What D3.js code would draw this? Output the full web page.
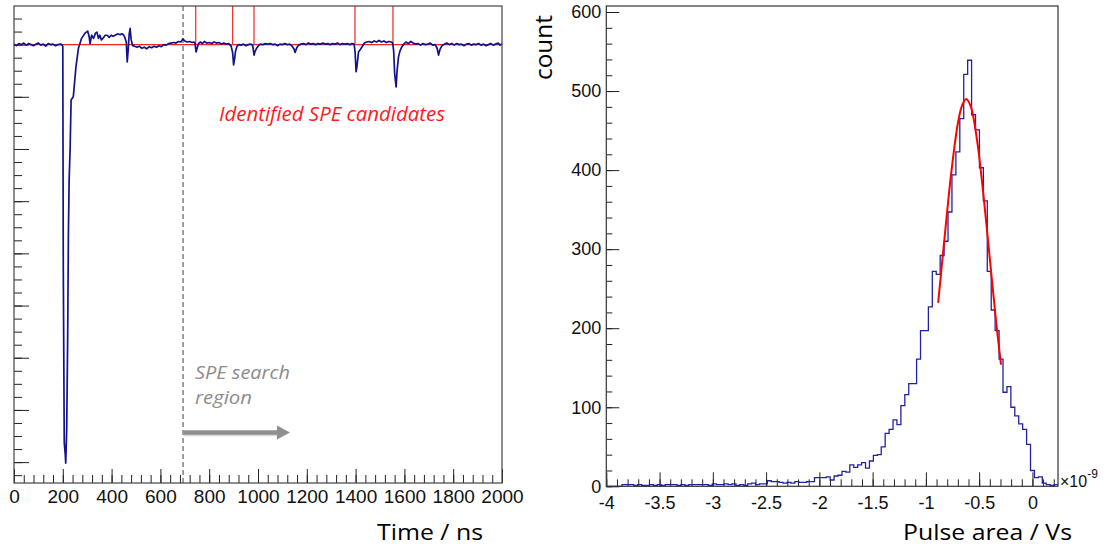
<!DOCTYPE html>
<html><head><meta charset="utf-8">
<script src="https://cdn.jsdelivr.net/npm/d3@7"></script>
<style>
body{margin:0;background:#fff;}
svg{display:block;}
</style></head><body>
<svg id="c" width="1107" height="549"></svg>
<script>
// ---------- Left panel: waveform ----------
const traceTime = [0,10,20,30,40,50,60,70,80,90,100,110,120,130,140,150,160,170,180,190,
196,200,202,206,210,212,216,220,223,226,230,234,243,254,264,277,291,302,308,312,318,326,334,340,346,352,358,366,374,382,390,398,406,414,422,430,436,442,448,454,460,464,468,472,476,480,486,494,
504,514,524,534,544,554,564,574,584,594,604,614,624,634,644,654,664,674,684,692,700,710,720,730,738,742,746,750,756,764,772,780,790,
800,810,820,830,840,850,860,870,880,890,896,900,904,908,914,922,930,940,950,960,970,978,984,988,994,
1002,1010,1020,1030,1040,1050,1060,1070,1080,1090,1100,1110,1120,1130,1140,1148,1152,1158,1166,1176,1186,1196,
1206,1216,1226,1236,1246,1256,1266,1276,1286,1296,1306,1316,1326,1336,1346,1356,1366,1376,1386,1394,1398,
1402,1406,1412,1420,1428,1436,1446,1456,1466,1476,1486,1496,1506,1516,1526,1536,1546,1552,1556,1560,1566,1570,1576,1582,1590,1598,
1606,1616,1626,1636,1646,1656,1666,1676,1686,1696,1706,1716,1726,1734,1740,1746,1754,1764,1774,1784,1794,
1804,1814,1824,1834,1844,1854,1864,1874,1884,1894,1904,1914,1924,1934,1944,1954,1964,1974,1984,1992,2000];
const traceValue = [0.1,-0.2,0.2,0.0,0.3,-0.1,0.2,0.0,-0.2,0.1,0.3,-0.1,0.1,-0.3,0.2,0.0,0.1,-0.2,0.0,0.1,
0.0,-0.3,-42.6,-76.3,-78.5,-80.2,-73.8,-56.0,-36.1,-25.9,-20.0,-10.6,-10.0,-4.2,-0.7,1.2,2.2,2.6,1.5,0.2,1.8,1.2,2.2,2.4,1.2,1.8,0.9,1.3,1.8,1.8,1.4,1.8,1.6,1.8,2.0,2.0,1.9,2.1,1.9,1.4,0.5,-3.3,-1.0,2.0,3.1,1.0,-0.2,-0.3,
-0.5,-0.3,-0.7,-0.5,-0.8,-0.4,-0.6,-0.3,-0.5,-0.2,-0.4,0.0,-0.1,0.2,0.3,0.4,0.3,0.6,0.5,1.1,0.7,0.5,0.6,0.4,0.5,0.2,-1.4,-0.8,0.2,0.5,0.2,0.6,0.3,
0.4,0.2,0.5,0.3,0.4,0.1,0.3,0.1,0.2,-0.3,-1.5,-3.9,-2.8,-1.2,-0.3,0.0,-0.1,0.1,-0.2,0.0,0.1,-0.1,-2.0,-1.3,-0.7,
-0.2,0.1,0.0,0.2,0.1,0.2,0.0,0.1,-0.2,0.1,0.0,0.2,0.0,0.1,-0.3,-0.9,-1.5,-0.7,-0.1,0.1,0.2,0.0,
0.3,0.1,0.2,0.0,0.2,0.1,0.3,0.1,0.2,0.0,0.2,0.1,0.3,0.0,0.2,0.1,0.2,0.0,0.2,0.1,-1.5,
-5.2,-4.0,-1.4,-0.9,-0.3,0.3,0.5,0.6,0.4,0.7,0.5,0.8,0.5,0.7,0.4,0.6,0.5,0.3,-1.2,-5.5,-8.1,-5.0,-2.3,-1.2,-0.4,0.1,
0.5,0.2,0.6,0.3,0.1,0.2,-0.1,0.2,0.0,0.1,0.3,-0.1,0.0,-0.7,-2.0,-0.9,-0.2,0.1,0.3,0.0,0.2,
-0.1,0.2,0.0,0.1,-0.2,0.1,0.2,-0.1,0.1,0.0,0.2,-0.1,0.1,-0.2,0.0,0.2,-0.1,0.1,0.3,-0.1,0.2];
const speTimes = [744.7, 896, 983.6, 1397.5, 1553];
const searchStart = 693;
const searchArrowEnd = 1131;
const xTicksLeft = [0,200,400,600,800,1000,1200,1400,1600,1800,2000];

// ---------- Right panel: pulse area histogram ----------
const histStart = -4, histEnd = 0.24;
const histCounts = [0,0,0,0,2,2,2,1,2,1,
 1,2,1,2,1,2,2,2,1,2,
 1,2,2,2,2,2,1,3,2,2,
 3,2,3,1,2,1,3,4,2,3,
 3,7,6,6,5,4,5,4,6,5,
 5,6,6,11,11,11,12,8,13,14,
 19,18,27,24,27,30,23,32,39,40,
 50,67,72,84,78,102,116,130,130,161,
 197,197,227,272,268,292,310,347,394,423,
 465,521,539,470,451,403,361,272,223,197,
 161,119,126,100,89,79,72,53,20,11,
 12,4,2,1,2];
const fitX = [-0.885,-0.82,-0.76,-0.70,-0.66,-0.622,-0.58,-0.52,-0.46,-0.40,-0.34,-0.295];
const fitY = [232,321,399,459,482,490,481,438,369,288,207,154];
const xTicksRight = [-4,-3.5,-3,-2.5,-2,-1.5,-1,-0.5,0];
const yTicksRight = [0,100,200,300,400,500,600];

const svg = d3.select("#c");
const tickFont = "Liberation Sans, Arial, sans-serif";
const titleFont = "Open Sans, Lato, sans-serif";

function styleAxis(g, size){
  g.attr("font-family", tickFont).attr("font-size", size);
  g.select(".domain").remove();
  g.selectAll("line").attr("stroke", "#222");
  g.selectAll("text").attr("fill", "#111");
}

// ===== Left panel =====
const xL = d3.scaleLinear().domain([0, 2000]).range([14, 502]);
const yL = d3.scaleLinear().domain([-84, 7.4]).range([483, 6]);
const gL = svg.append("g");

gL.append("g").attr("transform", `translate(0,${yL.range()[0]})`)
  .call(d3.axisBottom(xL).tickValues(d3.range(0, 2001, 40)).tickSize(-8).tickFormat(""))
  .call(g => styleAxis(g, 19));
gL.append("g").attr("transform", `translate(0,${yL.range()[0]})`)
  .call(d3.axisBottom(xL).tickValues(xTicksLeft).tickSize(-14).tickPadding(7).tickFormat(d3.format("d")))
  .call(g => styleAxis(g, 19));
gL.append("g").attr("transform", `translate(${xL.range()[0]},0)`)
  .call(d3.axisLeft(yL).tickValues(d3.range(-82.5, 7.4, 2.5)).tickSize(-8).tickFormat(""))
  .call(g => styleAxis(g, 19));
gL.append("g").attr("transform", `translate(${xL.range()[0]},0)`)
  .call(d3.axisLeft(yL).tickValues(d3.range(-80, 7.4, 10)).tickSize(-15).tickFormat(""))
  .call(g => styleAxis(g, 19));

// dashed search start line
gL.append("line")
  .attr("x1", xL(searchStart)).attr("x2", xL(searchStart))
  .attr("y1", yL.range()[1]).attr("y2", yL.range()[0])
  .attr("stroke", "#8a8a8a").attr("stroke-width", 1.6).attr("stroke-dasharray", "5,3");

// red baseline & SPE markers
gL.append("line")
  .attr("x1", xL(0)).attr("x2", xL(2000)).attr("y1", yL(0)).attr("y2", yL(0))
  .attr("stroke", "#ff2020").attr("stroke-width", 1.3);
gL.selectAll("line.spe").data(speTimes).enter().append("line").attr("class", "spe")
  .attr("x1", d => xL(d)).attr("x2", d => xL(d))
  .attr("y1", yL.range()[1]).attr("y2", yL(0))
  .attr("stroke", "#f03838").attr("stroke-width", 1.3);

// trace
const traceData = traceTime.map((t, i) => [t, traceValue[i]]);
gL.append("path").datum(traceData)
  .attr("d", d3.line().x(d => xL(d[0])).y(d => yL(d[1])))
  .attr("fill", "none").attr("stroke", "#12128e").attr("stroke-width", 1.7)
  .attr("stroke-linejoin", "round");

// frame
gL.append("rect").attr("x", 14).attr("y", 6).attr("width", 488).attr("height", 477)
  .attr("fill", "none").attr("stroke", "#444").attr("stroke-width", 1.2);

// annotations
gL.append("text").attr("x", 219).attr("y", 121)
  .attr("font-family", titleFont).attr("font-style", "italic").attr("font-size", 20)
  .attr("fill", "#ff1a1a").attr("textLength", 226).attr("lengthAdjust", "spacingAndGlyphs")
  .text("Identified SPE candidates");
gL.append("text").attr("x", 195).attr("y", 379)
  .attr("font-family", titleFont).attr("font-style", "italic").attr("font-size", 18)
  .attr("fill", "#8c8c8c").attr("textLength", 95).attr("lengthAdjust", "spacingAndGlyphs")
  .text("SPE search");
gL.append("text").attr("x", 195).attr("y", 404)
  .attr("font-family", titleFont).attr("font-style", "italic").attr("font-size", 18)
  .attr("fill", "#8c8c8c").attr("textLength", 57).attr("lengthAdjust", "spacingAndGlyphs")
  .text("region");
// arrow
const ay = 432.5, ax0 = xL(searchStart), ax1 = xL(searchArrowEnd);
gL.append("line").attr("x1", ax0).attr("x2", ax1 - 10).attr("y1", ay + 1.5).attr("y2", ay + 1.5)
  .attr("stroke", "#d8d8d8").attr("stroke-width", 4.5);
gL.append("line").attr("x1", ax0).attr("x2", ax1 - 10).attr("y1", ay).attr("y2", ay)
  .attr("stroke", "#8f8f8f").attr("stroke-width", 4.5);
gL.append("path").attr("d", `M${ax1},${ay} L${ax1-13},${ay-7} L${ax1-13},${ay+7} Z`)
  .attr("fill", "#8f8f8f");

// axis title
gL.append("text").attr("x", 377).attr("y", 540)
  .attr("font-family", titleFont).attr("font-size", 21).attr("fill", "#000")
  .attr("textLength", 106).attr("lengthAdjust", "spacingAndGlyphs")
  .text("Time / ns");

// ===== Right panel =====
const xR = d3.scaleLinear().domain([histStart, histEnd]).range([606.3, 1058]);
const yR = d3.scaleLinear().domain([0, 607.6]).range([486.3, 6]);
const gR = svg.append("g");

gR.append("g").attr("transform", `translate(0,${yR(0)})`)
  .call(d3.axisBottom(xR).tickValues(d3.range(-4, 0.241, 0.1)).tickSize(-7).tickFormat(""))
  .call(g => styleAxis(g, 18));
gR.append("g").attr("transform", `translate(0,${yR(0)})`)
  .call(d3.axisBottom(xR).tickValues(xTicksRight).tickSize(-14).tickPadding(10).tickFormat(d => d3.format("")(d).replace("−","-")))
  .call(g => styleAxis(g, 18));
gR.append("g").attr("transform", `translate(${xR.range()[0]},0)`)
  .call(d3.axisLeft(yR).tickValues(d3.range(0, 607, 20)).tickSize(-6).tickFormat(""))
  .call(g => styleAxis(g, 18));
gR.append("g").attr("transform", `translate(${xR.range()[0]},0)`)
  .call(d3.axisLeft(yR).tickValues(yTicksRight).tickSize(-13).tickPadding(5).tickFormat(d3.format("d")))
  .call(g => styleAxis(g, 18));

// histogram outline
const binW = (histEnd - histStart) / histCounts.length;
const histPts = [[histStart, 0]];
histCounts.forEach((c, i) => {
  histPts.push([histStart + i * binW, c]);
  histPts.push([histStart + (i + 1) * binW, c]);
});
gR.append("path").datum(histPts)
  .attr("d", d3.line().x(d => xR(d[0])).y(d => yR(d[1])))
  .attr("fill", "none").attr("stroke", "#2222a8").attr("stroke-width", 1.3);

// gaussian fit
const fitData = fitX.map((x, i) => [x, fitY[i]]);
gR.append("path").datum(fitData)
  .attr("d", d3.line().curve(d3.curveCatmullRom).x(d => xR(d[0])).y(d => yR(d[1])))
  .attr("fill", "none").attr("stroke", "#ff0000").attr("stroke-width", 2);

// frame
gR.append("rect").attr("x", 606.3).attr("y", 6).attr("width", 1058 - 606.3).attr("height", 486.3 - 6)
  .attr("fill", "none").attr("stroke", "#333").attr("stroke-width", 1.2);

// exponent label
const ex = gR.append("text").attr("x", 1060).attr("y", 487)
  .attr("font-family", tickFont).attr("font-size", 16).attr("fill", "#111");
ex.append("tspan").text("×10");
ex.append("tspan").attr("font-size", 12).attr("dy", -9).text("-9");

// axis titles
gR.append("text").attr("x", 903).attr("y", 540)
  .attr("font-family", titleFont).attr("font-size", 21).attr("fill", "#000")
  .attr("textLength", 169).attr("lengthAdjust", "spacingAndGlyphs")
  .text("Pulse area / Vs");
gR.append("text").attr("transform", "translate(552,80) rotate(-90)")
  .attr("font-family", titleFont).attr("font-size", 23).attr("fill", "#000")
  .attr("textLength", 65).attr("lengthAdjust", "spacingAndGlyphs")
  .text("count");
</script>
</body></html>
